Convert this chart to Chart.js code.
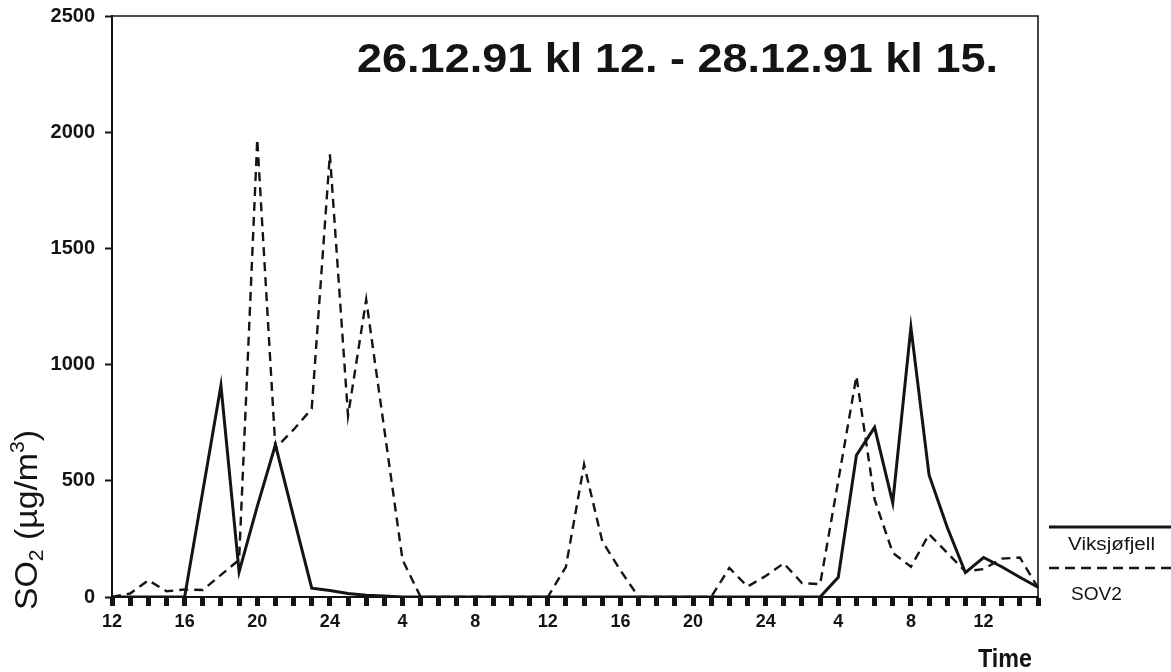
<!DOCTYPE html>
<html>
<head>
<meta charset="utf-8">
<script src="https://cdn.jsdelivr.net/npm/chart.js@4.4.1/dist/chart.umd.min.js"></script>
<style>
html,body{margin:0;padding:0;background:#fff;}
#wrap{width:1171px;height:672px;}
</style>
</head>
<body>
<div id="wrap"><canvas id="c" width="1171" height="672"></canvas></div>
<script>
// ---- data ----
const timeLabels = ['12','13','14','15','16','17','18','19','20','21','22','23','24',
  '1','2','3','4','5','6','7','8','9','10','11','12','13','14','15','16','17','18','19','20','21','22','23','24',
  '1','2','3','4','5','6','7','8','9','10','11','12','13','14','15'];
const shownTickEvery = 4;
const yTicks = [0, 500, 1000, 1500, 2000, 2500];

const viksjofjell = [0,0,0,0,0, 455,910,108,390,655, 345,38,28,15,8,
  4,0,0,0,0, 0,0,0,0,0, 0,0,0,0,0, 0,0,0,0,0, 0,0,0,0,0,
  85,610,730,405,1160, 525,300,105,170,130, 85,42];
const sov2 = [0,15,72,25,32, 30,95,160,1970,640, 720,810,1905,780,1280,
  720,160,0,0,0, 0,0,0,0,0, 130,570,240,115,0, 0,0,0,0,125,
  45,90,145,60,55, 500,950,420,190,130, 270,190,110,120,165, 170,40];

const seriesNames = ['Viksjøfjell', 'SOV2'];
const titleText = '26.12.91 kl 12. - 28.12.91 kl 15.';
const xTitle = 'Time';

const INK = '#141414';
Chart.defaults.font.family = '"Liberation Sans", Arial, Helvetica, sans-serif';
Chart.defaults.color = INK;

function stretchText(ctx, text, x, y, font, targetW) {
  ctx.save();
  ctx.font = font;
  const w = ctx.measureText(text).width;
  const s = targetW / w;
  ctx.translate(x, y);
  ctx.scale(s, 1);
  ctx.textAlign = 'left';
  ctx.fillText(text, 0, 0);
  ctx.restore();
}

const decorPlugin = {
  id: 'decor',
  afterDraw(chart) {
    const ctx = chart.ctx;
    const a = chart.chartArea;
    ctx.save();
    // frame top and right
    ctx.strokeStyle = INK;
    ctx.lineWidth = 1.6;
    ctx.beginPath();
    ctx.moveTo(a.left - 1, a.top);
    ctx.lineTo(a.right, a.top);
    ctx.lineTo(a.right, a.bottom);
    ctx.stroke();

    ctx.fillStyle = INK;
    ctx.textBaseline = 'alphabetic';
    // main title
    stretchText(ctx, titleText, 357, 72, 'bold 41px "Liberation Sans", Arial, sans-serif', 641);
    // x axis title
    stretchText(ctx, xTitle, 978, 667, 'bold 26px "Liberation Sans", Arial, sans-serif', 54);

    // legend
    const ds = chart.data.datasets;
    const lx0 = a.right + 11, lx1 = 1171;
    [[527, 545, ds[0]], [568, 595, ds[1]]].forEach(([ly, ty, d], k) => {
      ctx.save();
      ctx.strokeStyle = d.borderColor;
      ctx.lineWidth = k === 0 ? 3 : 2.5;
      ctx.setLineDash(k === 0 ? [] : [10, 6]);
      ctx.beginPath();
      ctx.moveTo(lx0, ly);
      ctx.lineTo(lx1, ly);
      ctx.stroke();
      ctx.restore();
      stretchText(ctx, d.label, k === 0 ? 1068 : 1071, ty + 5, '18px "Liberation Sans", Arial, sans-serif', k === 0 ? 87 : 51);
    });

    // y axis title: SO2 (µg/m3), rotated
    ctx.save();
    ctx.translate(37, 610);
    ctx.rotate(-Math.PI / 2);
    const big = '32px "Liberation Sans", Arial, sans-serif';
    const small = '20px "Liberation Sans", Arial, sans-serif';
    const parts = [['SO', big, 0], ['2', small, 6], [' (µg/m', big, 0], ['3', small, -13], [')', big, 0]];
    let total = 0;
    parts.forEach(p => { ctx.font = p[1]; total += ctx.measureText(p[0]).width; });
    const sc = 180 / total;
    ctx.scale(sc, 1);
    let cx = 0;
    parts.forEach(p => { ctx.font = p[1]; ctx.fillText(p[0], cx, p[2]); cx += ctx.measureText(p[0]).width; });
    ctx.restore();

    ctx.restore();
  }
};

new Chart(document.getElementById('c'), {
  type: 'line',
  data: {
    labels: timeLabels,
    datasets: [
      { label: seriesNames[0], data: viksjofjell, borderColor: INK, borderWidth: 3, pointRadius: 0, tension: 0, fill: false },
      { label: seriesNames[1], data: sov2, borderColor: INK, borderWidth: 2.4, borderDash: [9, 6], pointRadius: 0, tension: 0, fill: false }
    ]
  },
  options: {
    responsive: false,
    animation: false,
    layout: { padding: { top: 16, right: 133, left: 0, bottom: 0 } },
    plugins: { legend: { display: false }, tooltip: { enabled: false }, title: { display: false } },
    scales: {
      x: {
        type: 'category',
        offset: false,
        grid: { drawOnChartArea: false, drawTicks: true, tickLength: 9, tickWidth: 5, color: INK },
        border: { display: true, color: INK, width: 2 },
        ticks: {
          autoSkip: false, maxRotation: 0, minRotation: 0, padding: 5, color: INK,
          font: { size: 18, weight: 'bold' },
          callback: (v, i) => (i % shownTickEvery === 0 ? timeLabels[i] : '')
        },
        afterFit: s => { s.height = 75; s.paddingLeft = 0; s.paddingRight = 0; }
      },
      y: {
        min: yTicks[0], max: yTicks[yTicks.length - 1],
        afterBuildTicks: s => { s.ticks = yTicks.map(v => ({ value: v })); },
        grid: { drawOnChartArea: false, drawTicks: true, tickLength: 7, tickWidth: 2, color: INK },
        border: { display: true, color: INK, width: 2 },
        ticks: { padding: 10, color: INK, font: { size: 20, weight: 'bold' }, callback: v => String(v) },
        afterFit: s => { s.width = 112; s.paddingTop = 0; s.paddingBottom = 0; }
      }
    }
  },
  plugins: [decorPlugin]
});
</script>
</body>
</html>
